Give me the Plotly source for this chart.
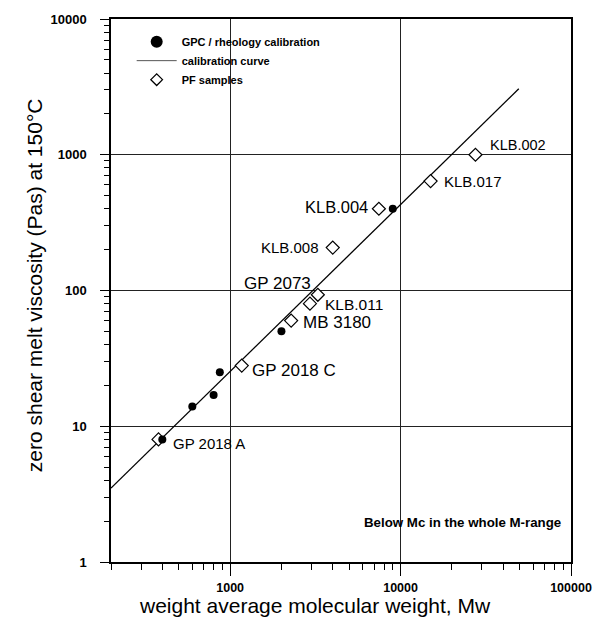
import numpy as np
import plotly.graph_objects as go

# ---- data ----
gpc_mw = [400, 600, 800, 870, 2000, 9000]
gpc_eta = [8, 14, 17, 25, 50, 400]

calib_mw = [200, 49400]
calib_eta = [3.5, 3060]

pf_names = ["GP 2018 A", "GP 2018 C", "MB 3180", "KLB.011", "GP 2073",
            "KLB.008", "KLB.004", "KLB.017", "KLB.002"]
pf_mw = [380, 1170, 2280, 2940, 3270, 4000, 7460, 15000, 27500]
pf_eta = [8, 28, 60, 80, 93, 207, 400, 640, 1000]

x_ticks = [1000, 10000, 100000]
x_ticklabels = ["1000", "10000", "100000"]
y_ticks = [1, 10, 100, 1000, 10000]
y_ticklabels = ["1", "10", "100", "1000", "10000"]

# ---- label styling (anchor, xshift, yshift, size) ----
label_style = {
    "GP 2018 A": ("left", 12, -4, 15),
    "GP 2018 C": ("left", 8, -5, 17),
    "MB 3180": ("left", 10, -2, 17),
    "KLB.011": ("left", 13, -1, 15.5),
    "GP 2073": ("right", -5, 11, 17),
    "KLB.008": ("right", -12, 0, 15),
    "KLB.004": ("right", -9, 2, 16.5),
    "KLB.017": ("left", 11, 0, 15),
    "KLB.002": ("left", 13, 10, 14.5),
}

FONT = "Arial, 'Liberation Sans', Helvetica, sans-serif"

ML, MR, MT, MB = 111, 26, 18, 59
PW = 604 - ML - MR


def px_x(p):
    return (p - ML) / PW


fig = go.Figure()

# plotted marks
fig.add_trace(go.Scatter(
    x=calib_mw, y=calib_eta, mode="lines",
    line=dict(color="black", width=1.3),
    name="calibration curve", showlegend=False))

fig.add_trace(go.Scatter(
    x=pf_mw, y=pf_eta, mode="markers",
    marker=dict(symbol="diamond", size=10, color="white",
                line=dict(color="black", width=1.2)),
    name="PF samples", showlegend=False))

fig.add_trace(go.Scatter(
    x=gpc_mw, y=gpc_eta, mode="markers",
    marker=dict(symbol="circle", size=8, color="black"),
    name="GPC / rheology calibration", showlegend=False))

# legend entries (legend symbols only, no data)
fig.add_trace(go.Scatter(
    x=[None], y=[None], mode="markers",
    marker=dict(symbol="circle", size=12, color="black"),
    name="GPC / rheology calibration", legendrank=1))
fig.add_trace(go.Scatter(
    x=[None], y=[None], mode="lines",
    line=dict(color="#555", width=1),
    name="calibration curve", legendrank=2))
fig.add_trace(go.Scatter(
    x=[None], y=[None], mode="markers",
    marker=dict(symbol="diamond", size=9, color="white",
                line=dict(color="black", width=1.3)),
    name="PF samples", legendrank=3))

annotations = []
for name, mw, eta in zip(pf_names, pf_mw, pf_eta):
    anchor, xs, ys, size = label_style[name]
    annotations.append(dict(
        x=np.log10(mw), y=np.log10(eta), xref="x", yref="y",
        text=name, showarrow=False, xanchor=anchor, yanchor="middle",
        xshift=xs, yshift=ys, font=dict(family=FONT, size=size, color="black")))

annotations.append(dict(
    x=px_x(468), y=0.072, xref="paper", yref="paper",
    text="<b>Below Mc in the whole M-range</b>", showarrow=False,
    xanchor="center", yanchor="middle",
    font=dict(family=FONT, size=13.3, color="black")))

annotations.append(dict(
    x=px_x(318), y=-0.081, xref="paper", yref="paper",
    text="weight average molecular weight, Mw", showarrow=False,
    xanchor="center", yanchor="middle",
    font=dict(family=FONT, size=21, color="black")))

annotations.append(dict(
    x=px_x(33), y=0.51, xref="paper", yref="paper",
    text="zero shear melt viscosity (Pas) at 150°C", showarrow=False,
    textangle=-90, xanchor="center", yanchor="middle",
    font=dict(family=FONT, size=21, color="black")))

minor_x = [m * d for d in (100, 1000, 10000) for m in range(2, 10) if m * d >= 200]
minor_y = [m * d for d in (1, 10, 100, 1000) for m in range(2, 10)]

fig.update_layout(
    width=604, height=621,
    margin=dict(l=ML, r=MR, t=MT, b=MB),
    paper_bgcolor="white", plot_bgcolor="white",
    font=dict(family=FONT, color="black"),
    showlegend=True,
    legend=dict(x=px_x(132), y=0.985, xanchor="left", yanchor="top",
                bgcolor="rgba(0,0,0,0)", itemwidth=40,
                font=dict(family=FONT, size=11, color="black", weight="bold"),
                traceorder="normal"),
    annotations=annotations,
)

fig.update_xaxes(
    type="log", range=[np.log10(200), 5],
    tickmode="array", tickvals=x_ticks, ticktext=x_ticklabels,
    ticks="outside", ticklen=12, tickwidth=1, tickcolor="black",
    ticklabelstandoff=1, ticklabeloverflow="allow",
    tickfont=dict(family=FONT, size=12.5, color="black", weight="bold"),
    showgrid=True, gridcolor="#222", gridwidth=1,
    showline=True, linecolor="black", linewidth=1.5, mirror=True,
    zeroline=False,
    minor=dict(tickmode="array", tickvals=minor_x, ticks="outside",
               ticklen=6, tickwidth=1, tickcolor="black", showgrid=False),
)

fig.update_yaxes(
    type="log", range=[0, 4],
    tickmode="array", tickvals=y_ticks, ticktext=y_ticklabels,
    ticks="outside", ticklen=9, tickwidth=1, tickcolor="black",
    ticklabelstandoff=11,
    tickfont=dict(family=FONT, size=13, color="black", weight="bold"),
    showgrid=True, gridcolor="#222", gridwidth=1,
    showline=True, linecolor="black", linewidth=1.5, mirror=True,
    zeroline=False,
    minor=dict(tickmode="array", tickvals=minor_y, ticks="outside",
               ticklen=5, tickwidth=1, tickcolor="black", showgrid=False),
)

fig.write_html("out.html")
